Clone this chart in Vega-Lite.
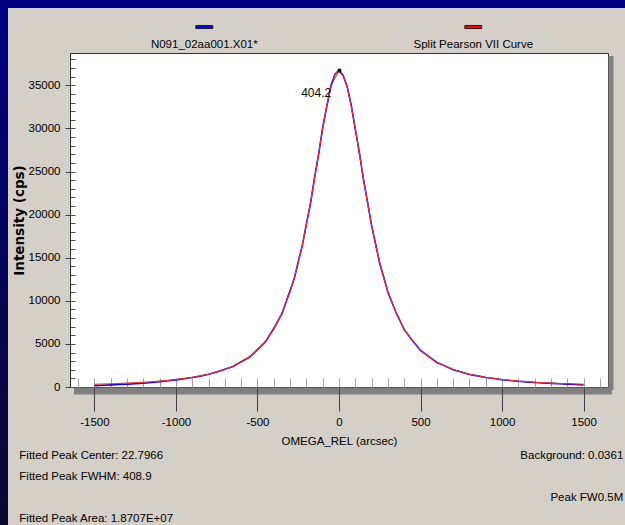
{
  "$schema": "https://vega.github.io/schema/vega-lite/v6.json",
  "background": "#d4d0c8",
  "padding": 0,
  "spacing": 0,
  "config": {
    "font": "Liberation Sans",
    "view": {"stroke": null},
    "concat": {"spacing": 0},
    "axis": {"grid": false}
  },
  "datasets": {
    "measured": [
      {"omega": -1500, "intensity": 160}, {"omega": -1450, "intensity": 200}, {"omega": -1400, "intensity": 250},
      {"omega": -1350, "intensity": 290}, {"omega": -1300, "intensity": 330}, {"omega": -1250, "intensity": 370},
      {"omega": -1200, "intensity": 430}, {"omega": -1150, "intensity": 520}, {"omega": -1100, "intensity": 620},
      {"omega": -1050, "intensity": 720}, {"omega": -1000, "intensity": 830}, {"omega": -950, "intensity": 960},
      {"omega": -900, "intensity": 1100}, {"omega": -850, "intensity": 1260}, {"omega": -800, "intensity": 1470},
      {"omega": -750, "intensity": 1730}, {"omega": -700, "intensity": 2060}, {"omega": -650, "intensity": 2390},
      {"omega": -600, "intensity": 2930}, {"omega": -550, "intensity": 3450}, {"omega": -500, "intensity": 4330},
      {"omega": -450, "intensity": 5280}, {"omega": -400, "intensity": 6790}, {"omega": -350, "intensity": 8500},
      {"omega": -300, "intensity": 11180}, {"omega": -275, "intensity": 12520}, {"omega": -250, "intensity": 14540},
      {"omega": -225, "intensity": 16380}, {"omega": -200, "intensity": 18920}, {"omega": -175, "intensity": 21260},
      {"omega": -150, "intensity": 24290}, {"omega": -125, "intensity": 26980}, {"omega": -100, "intensity": 30120},
      {"omega": -75, "intensity": 32520}, {"omega": -50, "intensity": 34930}, {"omega": -25, "intensity": 36280},
      {"omega": 0, "intensity": 36717}, {"omega": 25, "intensity": 36150}, {"omega": 50, "intensity": 34880},
      {"omega": 75, "intensity": 32700}, {"omega": 100, "intensity": 29900}, {"omega": 125, "intensity": 27200},
      {"omega": 150, "intensity": 24080}, {"omega": 175, "intensity": 21470}, {"omega": 200, "intensity": 18700},
      {"omega": 225, "intensity": 16560}, {"omega": 250, "intensity": 14330}, {"omega": 275, "intensity": 12700},
      {"omega": 300, "intensity": 10980}, {"omega": 350, "intensity": 8640}, {"omega": 400, "intensity": 6650},
      {"omega": 450, "intensity": 5390}, {"omega": 500, "intensity": 4250}, {"omega": 550, "intensity": 3550},
      {"omega": 600, "intensity": 2850}, {"omega": 650, "intensity": 2450}, {"omega": 700, "intensity": 2000},
      {"omega": 750, "intensity": 1750}, {"omega": 800, "intensity": 1460}, {"omega": 850, "intensity": 1290},
      {"omega": 900, "intensity": 1100}, {"omega": 950, "intensity": 990}, {"omega": 1000, "intensity": 850},
      {"omega": 1050, "intensity": 760}, {"omega": 1100, "intensity": 660}, {"omega": 1150, "intensity": 600},
      {"omega": 1200, "intensity": 520}, {"omega": 1250, "intensity": 470}, {"omega": 1300, "intensity": 420},
      {"omega": 1350, "intensity": 380}, {"omega": 1400, "intensity": 330}, {"omega": 1450, "intensity": 290},
      {"omega": 1500, "intensity": 250}
    ],
    "fit": [
      {"omega": -1500, "intensity": 315}, {"omega": -1400, "intensity": 375}, {"omega": -1300, "intensity": 452},
      {"omega": -1200, "intensity": 552}, {"omega": -1100, "intensity": 686}, {"omega": -1000, "intensity": 867},
      {"omega": -900, "intensity": 1121}, {"omega": -800, "intensity": 1488}, {"omega": -700, "intensity": 2037},
      {"omega": -650, "intensity": 2415}, {"omega": -600, "intensity": 2893}, {"omega": -550, "intensity": 3504},
      {"omega": -500, "intensity": 4296}, {"omega": -450, "intensity": 5336}, {"omega": -400, "intensity": 6716},
      {"omega": -350, "intensity": 8569}, {"omega": -300, "intensity": 11067}, {"omega": -275, "intensity": 12622},
      {"omega": -250, "intensity": 14417}, {"omega": -225, "intensity": 16471}, {"omega": -200, "intensity": 18794},
      {"omega": -175, "intensity": 21378}, {"omega": -150, "intensity": 24175}, {"omega": -125, "intensity": 27093},
      {"omega": -100, "intensity": 29981}, {"omega": -75, "intensity": 32628}, {"omega": -50, "intensity": 34785},
      {"omega": -25, "intensity": 36205}, {"omega": -12, "intensity": 36585}, {"omega": 0, "intensity": 36700},
      {"omega": 12, "intensity": 36585}, {"omega": 25, "intensity": 36205}, {"omega": 50, "intensity": 34785},
      {"omega": 75, "intensity": 32628}, {"omega": 100, "intensity": 29981}, {"omega": 125, "intensity": 27093},
      {"omega": 150, "intensity": 24175}, {"omega": 175, "intensity": 21378}, {"omega": 200, "intensity": 18794},
      {"omega": 225, "intensity": 16471}, {"omega": 250, "intensity": 14417}, {"omega": 275, "intensity": 12622},
      {"omega": 300, "intensity": 11067}, {"omega": 350, "intensity": 8569}, {"omega": 400, "intensity": 6716},
      {"omega": 450, "intensity": 5336}, {"omega": 500, "intensity": 4296}, {"omega": 550, "intensity": 3504},
      {"omega": 600, "intensity": 2893}, {"omega": 650, "intensity": 2415}, {"omega": 700, "intensity": 2037},
      {"omega": 800, "intensity": 1488}, {"omega": 900, "intensity": 1121}, {"omega": 1000, "intensity": 867},
      {"omega": 1100, "intensity": 686}, {"omega": 1200, "intensity": 552}, {"omega": 1300, "intensity": 452},
      {"omega": 1400, "intensity": 375}, {"omega": 1500, "intensity": 315}
    ],
    "peak": [
      {"omega": 3, "intensity": 36717, "lx": -48, "ly": 35093, "label": "404.2"}
    ],
    "legend": [
      {"series": "N091_02aa001.X01*"},
      {"series": "Split Pearson VII Curve"}
    ],
    "notes": [
      {"side": "left", "line": 1, "text": "Fitted Peak Center: 22.7966"},
      {"side": "left", "line": 2, "text": "Fitted Peak FWHM: 408.9"},
      {"side": "left", "line": 4, "text": "Fitted Peak Area: 1.8707E+07"},
      {"side": "right", "line": 1, "text": "Background: 0.0361"},
      {"side": "right", "line": 3, "text": "Peak FW0.5M"}
    ]
  },
  "vconcat": [
    {
      "width": 625,
      "height": 8,
      "view": {"fill": "#000080", "stroke": null},
      "data": {"values": [{}]},
      "mark": {"type": "rect", "color": "#000080"},
      "encoding": {}
    },
    {
      "spacing": 3,
      "hconcat": [
        {
          "width": 8,
          "height": 517,
          "view": {"fill": "#000050", "stroke": null},
          "data": {"values": [{}]},
          "mark": {
            "type": "rect",
            "color": {
              "gradient": "linear",
              "x1": 0, "y1": 0, "x2": 0, "y2": 1,
              "stops": [
                {"offset": 0, "color": "#000080"},
                {"offset": 1, "color": "#0a0a2e"}
              ]
            }
          },
          "encoding": {}
        },
        {
          "spacing": 0,
          "vconcat": [
            {
              "width": 538,
              "height": 44,
              "view": {"stroke": null},
              "data": {"name": "legend"},
              "layer": [
                {
                  "mark": {
                    "type": "point",
                    "shape": "M-1,-0.18H1V0.18H-1Z",
                    "size": 289,
                    "filled": true,
                    "opacity": 1,
                    "stroke": "#202020",
                    "strokeWidth": 1,
                    "yOffset": -3
                  },
                  "encoding": {
                    "x": {
                      "field": "series", "type": "nominal",
                      "scale": {"type": "point", "padding": 0, "domain": ["N091_02aa001.X01*", "Split Pearson VII Curve"], "range": [134.3, 403.3]},
                      "axis": null
                    },
                    "fill": {
                      "field": "series", "type": "nominal",
                      "scale": {"domain": ["N091_02aa001.X01*", "Split Pearson VII Curve"], "range": ["#0000ff", "#ff0000"]},
                      "legend": null
                    }
                  }
                },
                {
                  "mark": {"type": "text", "dy": 15, "fontSize": 11.5, "color": "black"},
                  "encoding": {
                    "x": {
                      "field": "series", "type": "nominal",
                      "scale": {"type": "point", "padding": 0, "domain": ["N091_02aa001.X01*", "Split Pearson VII Curve"], "range": [134.3, 403.3]},
                      "axis": null
                    },
                    "text": {"field": "series"}
                  }
                }
              ]
            },
            {
              "width": 538,
              "height": 334,
              "view": {"fill": "white", "stroke": "#303030", "strokeWidth": 1},
              "resolve": {"axis": {"x": "independent", "y": "independent"}},
              "layer": [
                {
                  "data": {"name": "measured"},
                  "mark": {"type": "line", "color": "#0000ff", "strokeWidth": 1.6},
                  "encoding": {
                    "x": {
                      "field": "omega", "type": "quantitative",
                      "scale": {"domain": [-1650, 1650], "nice": false, "zero": false},
                      "axis": {"orient": "bottom", "domain": true, "domainColor": "#808080", "domainWidth": 7, "translate": 4, "ticks": false, "labels": false, "title": null}
                    },
                    "y": {
                      "field": "intensity", "type": "quantitative",
                      "scale": {"domain": [0, 38750], "nice": false},
                      "axis": {"orient": "right", "domain": true, "domainColor": "#808080", "domainWidth": 5, "translate": 3, "ticks": false, "labels": false, "title": null}
                    }
                  }
                },
                {
                  "data": {"name": "fit"},
                  "mark": {"type": "line", "color": "#ff2a2a", "strokeWidth": 1.1},
                  "encoding": {
                    "x": {
                      "field": "omega", "type": "quantitative",
                      "scale": {"domain": [-1650, 1650], "nice": false, "zero": false},
                      "axis": {
                        "orient": "bottom",
                        "values": [-1500, -1000, -500, 0, 500, 1000, 1500],
                        "labelExpr": "datum.value < 0 ? '-' + abs(datum.value) : '' + datum.value",
                        "domain": false,
                        "tickSize": 24,
                        "tickColor": "#404040",
                        "labelFontSize": 11.5,
                        "labelColor": "black",
                        "labelPadding": 5,
                        "title": "OMEGA_REL (arcsec)",
                        "titleFontSize": 11.5,
                        "titleFontWeight": "normal",
                        "titleColor": "black",
                        "titlePadding": 8
                      }
                    },
                    "y": {
                      "field": "intensity", "type": "quantitative",
                      "scale": {"domain": [0, 38750], "nice": false},
                      "axis": {
                        "orient": "left",
                        "values": [0, 5000, 10000, 15000, 20000, 25000, 30000, 35000],
                        "format": "d",
                        "domain": false,
                        "tickSize": 5,
                        "tickColor": "#404040",
                        "labelFontSize": 11.5,
                        "labelColor": "black",
                        "labelPadding": 5,
                        "title": "Intensity (cps)",
                        "titleFont": "DejaVu Sans",
                        "titleFontWeight": "bold",
                        "titleFontSize": 13.5,
                        "titleColor": "black",
                        "titlePadding": 2
                      }
                    }
                  }
                },
                {
                  "data": {"name": "peak"},
                  "mark": {"type": "point", "filled": true, "color": "black", "size": 16, "opacity": 1},
                  "encoding": {
                    "x": {
                      "field": "omega", "type": "quantitative",
                      "scale": {"domain": [-1650, 1650], "nice": false, "zero": false},
                      "axis": {
                        "orient": "bottom",
                        "values": [-1600, -1500, -1400, -1300, -1200, -1100, -1000, -900, -800, -700, -600, -500, -400, -300, -200, -100, 0, 100, 200, 300, 400, 500, 600, 700, 800, 900, 1000, 1100, 1200, 1300, 1400, 1500, 1600],
                        "domain": false,
                        "tickSize": -9,
                        "tickColor": "#a0a0a0",
                        "labels": false,
                        "title": null
                      }
                    },
                    "y": {
                      "field": "intensity", "type": "quantitative",
                      "scale": {"domain": [0, 38750], "nice": false},
                      "axis": {
                        "orient": "left",
                        "values": [0, 1000, 2000, 3000, 4000, 5000, 6000, 7000, 8000, 9000, 10000, 11000, 12000, 13000, 14000, 15000, 16000, 17000, 18000, 19000, 20000, 21000, 22000, 23000, 24000, 25000, 26000, 27000, 28000, 29000, 30000, 31000, 32000, 33000, 34000, 35000, 36000, 37000, 38000],
                        "domain": false,
                        "tickSize": -5,
                        "tickColor": "#505050",
                        "labels": false,
                        "title": null
                      }
                    }
                  }
                },
                {
                  "data": {"name": "peak"},
                  "mark": {"type": "rule", "color": "#303030", "strokeWidth": 0.8},
                  "encoding": {
                    "x": {"field": "omega", "type": "quantitative", "scale": {"domain": [-1650, 1650], "nice": false, "zero": false}, "axis": null},
                    "y": {"field": "intensity", "type": "quantitative", "scale": {"domain": [0, 38750], "nice": false}, "axis": null},
                    "x2": {"field": "lx"},
                    "y2": {"field": "ly"}
                  }
                },
                {
                  "data": {"name": "peak"},
                  "mark": {"type": "text", "align": "right", "baseline": "middle", "dy": 8, "fontSize": 12, "color": "black"},
                  "encoding": {
                    "x": {"field": "lx", "type": "quantitative", "scale": {"domain": [-1650, 1650], "nice": false, "zero": false}, "axis": null},
                    "y": {"field": "ly", "type": "quantitative", "scale": {"domain": [0, 38750], "nice": false}, "axis": null},
                    "text": {"field": "label"}
                  }
                }
              ]
            },
            {
              "width": 538,
              "height": 79,
              "view": {"stroke": null},
              "data": {"name": "notes"},
              "layer": [
                {
                  "transform": [{"filter": "datum.side === 'left'"}],
                  "mark": {"type": "text", "align": "left", "fontSize": 11.5, "color": "black"},
                  "encoding": {
                    "x": {"field": "side", "type": "nominal", "scale": {"type": "point", "padding": 0, "domain": ["left", "right"], "range": [-50.7, 553.3]}, "axis": null},
                    "y": {"field": "line", "type": "ordinal", "scale": {"type": "point", "padding": 0, "domain": [1, 2, 3, 4], "range": [8, 71]}, "axis": null},
                    "text": {"field": "text"}
                  }
                },
                {
                  "transform": [{"filter": "datum.side === 'right'"}],
                  "mark": {"type": "text", "align": "right", "fontSize": 11.5, "color": "black"},
                  "encoding": {
                    "x": {"field": "side", "type": "nominal", "scale": {"type": "point", "padding": 0, "domain": ["left", "right"], "range": [-50.7, 553.3]}, "axis": null},
                    "y": {"field": "line", "type": "ordinal", "scale": {"type": "point", "padding": 0, "domain": [1, 2, 3, 4], "range": [8, 71]}, "axis": null},
                    "text": {"field": "text"}
                  }
                }
              ]
            }
          ]
        }
      ]
    }
  ]
}
